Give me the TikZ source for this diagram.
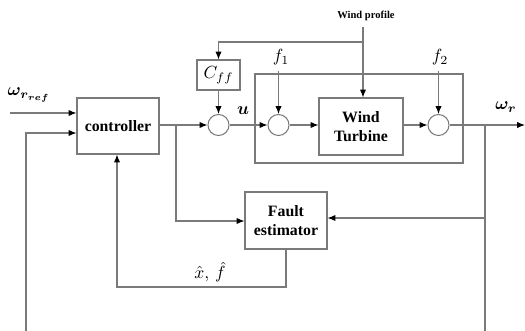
\documentclass[tikz,border=0pt]{standalone}
\usepackage{amsmath,amssymb}
\usepackage{fontspec}
\setmainfont{Liberation Serif}
\usetikzlibrary{positioning, arrows.meta}
\definecolor{lineGray}{HTML}{7A7A7A}

\begin{document}
\begin{tikzpicture}[
  x=0.02cm, y=-0.02cm,
  blockbox/.style={rectangle, draw=lineGray, line width=0.6pt, inner sep=0pt,
    font=\fontsize{9}{11}\selectfont\bfseries, align=center},
  sumnode/.style={circle, draw=lineGray, line width=0.6pt, minimum size=21*0.02cm, inner sep=0pt},
  sig/.style={draw=lineGray, line width=0.6pt, -{Latex[length=4.5pt,width=3.6pt,black]}},
  wire/.style={draw=lineGray, line width=0.6pt},
  siglabel/.style={font=\fontsize{10}{12}\selectfont}
]
  \useasboundingbox (0,0) rectangle (525,331);

  %% --- blocchi ---
  \node[blockbox, minimum width=82*0.02cm, minimum height=56*0.02cm] (ctrl) at (118,126) {controller};
  \node[blockbox, minimum width=43*0.02cm, minimum height=30*0.02cm, font=\fontsize{10}{12}\selectfont] (cff) at (218.5,75) {$C_{ff}$};
  \node[blockbox, minimum width=208*0.02cm, minimum height=89*0.02cm] (plant) at (359,118.5) {};
  \node[blockbox, minimum width=84*0.02cm, minimum height=57*0.02cm] (wt) at (361,126.5) {Wind\\Turbine};
  \node[blockbox, minimum width=82*0.02cm, minimum height=57*0.02cm] (fe) at (286,220.5) {Fault\\estimator};

  %% --- sommatori ---
  \node[sumnode] (sumu) at (218.5,125) {};
  \node[sumnode] (sumf1) at (278.5,125) {};
  \node[sumnode] (sumf2) at (438.5,125) {};

  %% --- etichette dei segnali ---
  \node[font=\fontsize{6}{7}\selectfont\bfseries] (wind) at (366,16) {Wind profile};
  \node[siglabel] (wref) at (29,95) {$\boldsymbol{\omega_{r_{ref}}}$};
  \node[siglabel] (ulab) at (243,111) {$\boldsymbol{u}$};
  \node[siglabel] (f1) at (281,57) {$f_1$};
  \node[siglabel] (f2) at (440,57) {$f_2$};
  \node[siglabel] (wout) at (506,107) {$\boldsymbol{\omega_r}$};
  \node[siglabel] (est) at (210,272) {$\hat{x},\,\hat{f}$};

  %% --- punti liberi e diramazioni ---
  \coordinate (refin) at (10,113);
  \coordinate (fbleft) at (26,331);
  \coordinate (fbright) at (485,331);
  \coordinate (yout) at (525,125);
  \coordinate (wtop) at (363,42);
  \coordinate (ubranch) at (176,125);
  \coordinate (ybranch) at (485,125);
  \coordinate (estbase) at (286,287);

  %% --- connessioni ---
  \draw[sig] (refin) -- (refin -| ctrl.west);
  \draw[sig] (fbleft) -- (26,133) -- (ctrl.west |- 0,133);
  \draw[sig] (ctrl.east |- sumu) -- (sumu.west);
  \draw[sig] (ubranch) |- (fe.west |- 0,221);
  \draw[sig] (cff.south) -- (sumu.north);
  \draw[sig] (wind.south -| wtop) -- (wt.north -| wtop);
  \draw[sig] (wtop) -| (cff.north);
  \draw[sig] (sumu.east) -- (sumf1.west);
  \draw[sig] (f1.south -| sumf1) -- (sumf1.north);
  \draw[sig] (sumf1.east) -- (wt.west |- sumf1);
  \draw[sig] (wt.east |- sumf2) -- (sumf2.west);
  \draw[sig] (f2.south -| sumf2) -- (sumf2.north);
  \draw[sig] (sumf2.east) -- (yout);
  \draw[wire] (ybranch) -- (fbright);
  \draw[sig] (485,218) -- (fe.east |- 0,218);
  \draw[sig] (fe.south) -- (estbase) -| (ctrl.south -| 117,0);
\end{tikzpicture}
\end{document}
